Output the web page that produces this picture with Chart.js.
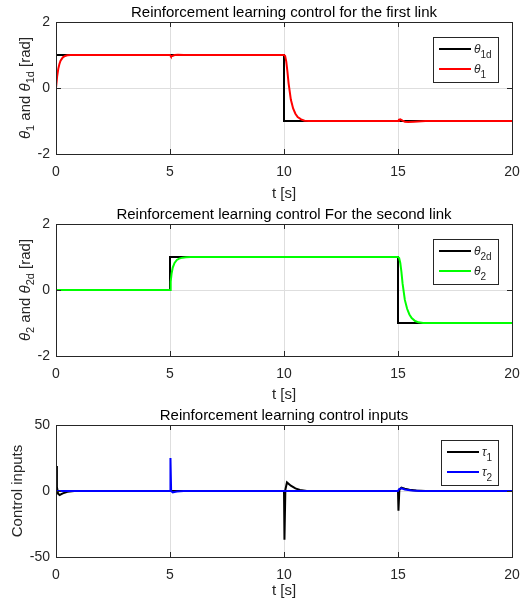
<!DOCTYPE html>
<html>
<head>
<meta charset="utf-8">
<script src="https://cdn.jsdelivr.net/npm/chart.js@4.4.1/dist/chart.umd.min.js"></script>
<style>
  html, body { margin: 0; padding: 0; background: #fff; }
  #wrap { position: relative; width: 522px; height: 610px; overflow: hidden; }
  canvas { position: absolute; left: 0; }
</style>
</head>
<body>
<div id="wrap">
  <canvas id="c1" width="522" height="210" style="top:0px"></canvas>
  <canvas id="c2" width="522" height="210" style="top:200px"></canvas>
  <canvas id="c3" width="522" height="210" style="top:400px"></canvas>
</div>
<script>
// ── datos ──────────────────────────────────────────────────────────
var xTicks = [0, 5, 10, 15, 20];

// eslabón 1: referencia y respuesta
var th1dT = [0, 10, 10, 20];
var th1dY = [1, 1, -1, -1];
var th1T = [0, 0.05, 0.1, 0.15, 0.2, 0.3, 0.4, 0.5, 0.65, 0.9,
            5.0, 5.04, 5.1, 5.2, 5.35, 5.6,
            10.0, 10.05, 10.1, 10.15, 10.2, 10.3, 10.4, 10.5, 10.6, 10.75, 10.9, 11.1,
            15.0, 15.04, 15.1, 15.2, 15.3, 15.45, 15.7, 16.2, 20];
var th1Y = [0, 0.35, 0.58, 0.73, 0.83, 0.93, 0.97, 0.99, 1.0, 1.0,
            1.0, 0.96, 0.97, 1.0, 1.01, 1.0,
            1.0, 0.97, 0.8, 0.5, 0.15, -0.35, -0.62, -0.78, -0.88, -0.95, -0.99, -1.0,
            -1.0, -0.96, -0.95, -0.99, -1.02, -1.03, -1.02, -1.0, -1.0];

// eslabón 2
var th2dT = [0, 5, 5, 15, 15, 20];
var th2dY = [0, 0, 1, 1, -1, -1];
var th2T = [0, 5.0, 5.03, 5.07, 5.12, 5.2, 5.3, 5.4, 5.55, 5.7, 5.9, 6.2,
            15.0, 15.05, 15.1, 15.15, 15.2, 15.3, 15.4, 15.5, 15.6, 15.75, 15.9, 16.1, 20];
var th2Y = [0, 0, 0.25, 0.5, 0.68, 0.82, 0.91, 0.95, 0.98, 0.99, 1.0, 1.0,
            1.0, 0.97, 0.82, 0.55, 0.2, -0.3, -0.57, -0.74, -0.85, -0.94, -0.98, -1.0, -1.0];

// entradas de control
var tau1T = [0, 0.04, 0.09, 0.16, 0.3, 0.5, 0.8,
             10.0, 10.02, 10.06, 10.13, 10.3, 10.5, 10.7, 11.0,
             15.0, 15.02, 15.06, 15.15, 15.3, 15.5, 15.8, 16.2, 20];
var tau1Y = [19, 3, -2, -3, -1.8, -0.6, 0,
             0, -37, 1, 6.5, 4, 2, 0.8, 0,
             0, -15, 1, 2.5, 1.8, 1, 0.3, 0, 0];
var tau2T = [0, 5.0, 5.02, 5.05, 5.12, 5.3, 5.6, 15.0, 15.05, 15.15, 15.3, 15.6, 16.0, 20];
var tau2Y = [0, 0, 25, 0, -1, -0.4, 0, 0, 1.5, 2, 1.2, 0.3, 0, 0];

// textos
var titles = ['Reinforcement learning control for the first link',
              'Reinforcement learning control For the second link',
              'Reinforcement learning control inputs'];
var xLabel = 't [s]';
var yLabel1 = [{ t: 'θ', s: 15, i: 1 }, { t: '1', s: 11, d: 4 }, { t: ' and ', s: 15 }, { t: 'θ', s: 15, i: 1 }, { t: '1d', s: 11, d: 4 }, { t: ' [rad]', s: 15 }];
var yLabel2 = [{ t: 'θ', s: 15, i: 1 }, { t: '2', s: 11, d: 4 }, { t: ' and ', s: 15 }, { t: 'θ', s: 15, i: 1 }, { t: '2d', s: 11, d: 4 }, { t: ' [rad]', s: 15 }];
var yLabel3 = [{ t: 'Control inputs', s: 15 }];
var leg1 = [[{ t: 'θ', s: 12, i: 1 }, { t: '1d', s: 10, d: 5 }], [{ t: 'θ', s: 12, i: 1 }, { t: '1', s: 10, d: 5 }]];
var leg2 = [[{ t: 'θ', s: 12, i: 1 }, { t: '2d', s: 10, d: 5 }], [{ t: 'θ', s: 12, i: 1 }, { t: '2', s: 10, d: 5 }]];
var leg3 = [[{ t: 'τ', s: 12, i: 1 }, { t: '1', s: 10, d: 5 }], [{ t: 'τ', s: 12, i: 1 }, { t: '2', s: 10, d: 5 }]];

// ── dibujo ─────────────────────────────────────────────────────────
var FONT = "'Liberation Sans', Arial, Helvetica, sans-serif";
var INK = '#262626';
var H = 210;

function fontOf(p) { return (p.i ? 'italic ' : '') + p.s + 'px ' + FONT; }
function partsWidth(ctx, parts) {
  var w = 0;
  parts.forEach(function (p) { ctx.font = fontOf(p); w += ctx.measureText(p.t).width; });
  return w;
}
function drawParts(ctx, parts, x, y) {
  parts.forEach(function (p) {
    ctx.font = fontOf(p);
    ctx.fillText(p.t, x, y + (p.d || 0));
    x += ctx.measureText(p.t).width;
  });
}

function framePlugin(cfg) {
  return {
    id: 'frame',
    afterDraw: function (chart) {
      var ctx = chart.ctx, a = chart.chartArea;
      var xs = chart.scales.x, ys = chart.scales.y;
      ctx.save();
      ctx.strokeStyle = INK;
      ctx.lineWidth = 1;
      // ticks hacia dentro
      ctx.beginPath();
      xTicks.forEach(function (v) {
        var p = Math.round(xs.getPixelForValue(v)) + 0.5;
        ctx.moveTo(p, a.bottom); ctx.lineTo(p, a.bottom - 5);
        ctx.moveTo(p, a.top); ctx.lineTo(p, a.top + 5);
      });
      cfg.yTicks.forEach(function (v) {
        var p = Math.round(ys.getPixelForValue(v)) + 0.5;
        ctx.moveTo(a.left, p); ctx.lineTo(a.left + 5, p);
        ctx.moveTo(a.right, p); ctx.lineTo(a.right - 5, p);
      });
      ctx.stroke();
      ctx.strokeRect(Math.round(a.left) + 0.5, Math.round(a.top) + 0.5, Math.round(a.right - a.left), Math.round(a.bottom - a.top));

      ctx.textBaseline = 'alphabetic';
      ctx.fillStyle = '#000';
      // título y etiqueta x
      var cx = (a.left + a.right) / 2;
      ctx.font = '15px ' + FONT;
      ctx.textAlign = 'center';
      ctx.fillText(cfg.title, cx, a.top - 5);
      ctx.fillStyle = INK;
      ctx.fillText(xLabel, cx, a.bottom + cfg.xLabelDy);
      ctx.textAlign = 'left';
      // etiqueta y
      ctx.save();
      ctx.translate(cfg.yLabelX, (a.top + a.bottom) / 2);
      ctx.rotate(-Math.PI / 2);
      drawParts(ctx, cfg.yLabel, -partsWidth(ctx, cfg.yLabel) / 2, 0);
      ctx.restore();

      // leyenda
      var tw = 0;
      cfg.legend.forEach(function (l) { tw = Math.max(tw, partsWidth(ctx, l)); });
      var bw = Math.round(6 + 32 + 3 + tw + 6), bh = 45;
      var bx = Math.round(a.right - 14 - bw), by = Math.round(a.top + 15);
      ctx.fillStyle = '#fff';
      ctx.fillRect(bx, by, bw, bh);
      ctx.strokeStyle = INK;
      ctx.lineWidth = 1;
      ctx.strokeRect(bx + 0.5, by + 0.5, bw, bh);
      chart.data.datasets.forEach(function (ds, i) {
        var ly = by + 12 + i * 20;
        ctx.strokeStyle = ds.borderColor;
        ctx.lineWidth = 2;
        ctx.beginPath();
        ctx.moveTo(bx + 6, ly); ctx.lineTo(bx + 38, ly);
        ctx.stroke();
        ctx.fillStyle = INK;
        drawParts(ctx, cfg.legend[i], bx + 41, ly + 4);
      });
      ctx.restore();
    }
  };
}

function serie(t, y, color, order) {
  return {
    data: t.map(function (v, i) { return { x: v, y: y[i] }; }),
    borderColor: color, borderWidth: 2, pointRadius: 0, tension: 0, fill: false, order: order
  };
}

function makeChart(id, cfg) {
  var tickFont = { size: 14, family: FONT };
  return new Chart(document.getElementById(id), {
    type: 'line',
    data: { datasets: cfg.series },
    options: {
      responsive: false, animation: false, events: [],
      layout: { padding: { top: cfg.top, right: 10, left: 0, bottom: 0 } },
      plugins: { legend: { display: false }, tooltip: { enabled: false } },
      scales: {
        x: {
          type: 'linear', min: 0, max: 20,
          ticks: { stepSize: 5, font: tickFont, color: INK, padding: 10, maxRotation: 0 },
          grid: { color: '#dedede', drawTicks: false },
          border: { display: false },
          afterFit: function (s) { s.height = H - cfg.bottom; s.paddingLeft = 0; s.paddingRight = 0; }
        },
        y: {
          type: 'linear', min: cfg.yTicks[0], max: cfg.yTicks[cfg.yTicks.length - 1],
          ticks: { stepSize: cfg.yTicks[1] - cfg.yTicks[0], font: tickFont, color: INK, padding: 6 },
          grid: { color: '#dedede', drawTicks: false },
          border: { display: false },
          afterFit: function (s) { s.width = 56; s.paddingTop = 0; s.paddingBottom = 0; }
        }
      }
    },
    plugins: [framePlugin(cfg)]
  });
}

makeChart('c1', {
  title: titles[0], yLabel: yLabel1, yLabelX: 29.5, legend: leg1, yTicks: [-2, 0, 2], top: 22, bottom: 154, xLabelDy: 44,
  series: [serie(th1dT, th1dY, '#000000', 2), serie(th1T, th1Y, '#ff0000', 1)]
});
makeChart('c2', {
  title: titles[1], yLabel: yLabel2, yLabelX: 29.5, legend: leg2, yTicks: [-2, 0, 2], top: 24, bottom: 156, xLabelDy: 43,
  series: [serie(th2dT, th2dY, '#000000', 2), serie(th2T, th2Y, '#00ff00', 1)]
});
makeChart('c3', {
  title: titles[2], yLabel: yLabel3, yLabelX: 21.5, legend: leg3, yTicks: [-50, 0, 50], top: 25, bottom: 157, xLabelDy: 38,
  series: [serie(tau1T, tau1Y, '#000000', 2), serie(tau2T, tau2Y, '#0000ff', 1)]
});
</script>
</body>
</html>
